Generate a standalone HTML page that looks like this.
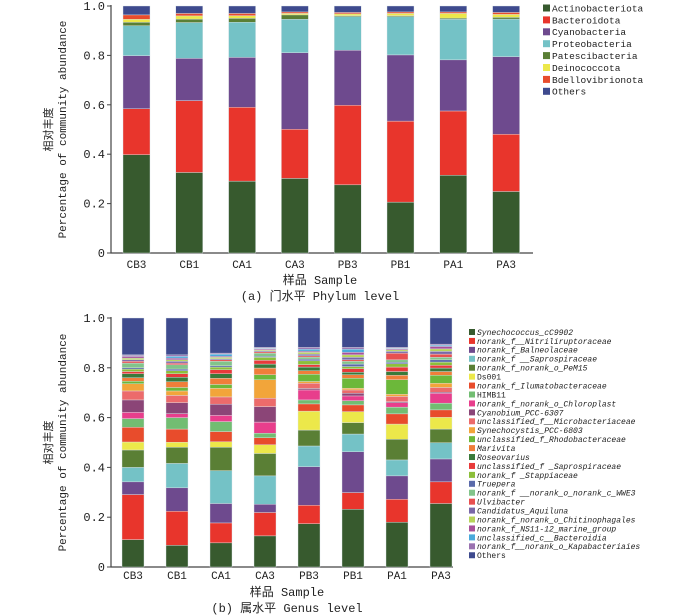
<!DOCTYPE html>
<html><head><meta charset="utf-8"><style>
html,body{margin:0;padding:0;background:#fff;width:700px;height:616px;overflow:hidden}
svg{display:block}
text{font-family:"Liberation Mono","Noto Sans CJK SC",monospace;fill:#222}
</style></head><body>
<svg id="chart" width="700" height="616" xmlns="http://www.w3.org/2000/svg"></svg>
<script>
const samples = ["CB3","CB1","CA1","CA3","PB3","PB1","PA1","PA3"];
const phylumNames = ["Actinobacteriota","Bacteroidota","Cyanobacteria","Proteobacteria","Patescibacteria","Deinococcota","Bdellovibrionota","Others"];
const phylumColors = ["#375a2e","#e8352c","#6e4a8e","#74c2c6","#5a7f35","#ece84a","#e84c2c","#3e4a8e"];
const phylumActino = [.398,.326,.291,.302,.276,.206,.315,.249];
const phylumBactero = [.186,.291,.299,.199,.322,.328,.260,.232];
const phylumCyano = [.215,.171,.202,.310,.223,.268,.207,.314];
const phylumProteo = [.121,.145,.142,.135,.136,.155,.164,.152];
const phylumPates = [.014,.014,.016,.018,.004,.004,.005,.007];
const phylumDeino = [.012,.013,.011,.006,.007,.009,.019,.012];
const phylumBdello = [.018,.010,.009,.006,.006,.006,.006,.008];
const phylumOthers = [.036,.030,.030,.024,.026,.024,.024,.026];
const phylumSeries = [phylumActino,phylumBactero,phylumCyano,phylumProteo,phylumPates,phylumDeino,phylumBdello,phylumOthers];

const genusNames = ["Synechococcus_cC9902","norank_f__Nitriliruptoraceae","norank_f_Balneolaceae","norank_f __Saprospiraceae","norank_f_norank_o_PeM15","Ds001","norank_f_Ilumatobacteraceae","HIMB11","norank_f_norank_o_Chloroplast","Cyanobium_PCC-6307","unclassified_f__Microbacteriaceae","Synechocystis_PCC-6803","unclassified_f_Rhodobacteraceae","Marivita","Roseovarius","unclassified_f _Saprospiraceae","norank_f _Stappiaceae","Truepera","norank_f __norank_o_norank_c_WWE3","Ulvibacter","Candidatus_Aquiluna","norank_f_norank_o_Chitinophagales","norank_f_NS11-12_marine_group","unclassified_c__Bacteroidia","norank_f__norank_o_Kapabacteriaies","Others"];
const genusColors = ["#375a2e","#e8352c","#6e4a8e","#74c2c6","#5a7f35","#ece84a","#e84c2c","#72bd72","#e83e8c","#8b4577","#ec6b6b","#f2a53a","#6cb83a","#f07e3a","#3a7a3a","#e83a3a","#8cbf3a","#5a6aaa","#82c48a","#e85050","#7a68a8","#b8d45a","#a8509a","#4aaadc","#9a72b0","#3e4a8e"];
const genusUpright = ["Ds001","HIMB11","Others"];
// per-sample genus proportions (order = genusNames)
const genusCB3 = [.110,.181,.051,.058,.070,.032,.059,.035,.025,.050,.036,.029,.010,.014,.016,.009,.010,.005,.019,.007,.006,.007,.007,.002,.004,.148];
const genusCB1 = [.087,.137,.094,.098,.065,.020,.053,.046,.016,.044,.029,.018,.014,.023,.018,.014,.012,.007,.017,.007,.007,.006,.007,.007,.006,.148];
const genusCA1 = [.097,.080,.078,.132,.094,.022,.041,.040,.025,.045,.029,.035,.015,.025,.018,.016,.011,.005,.018,.006,.004,.006,.004,.009,.004,.141];
const genusCA3 = [.125,.094,.033,.114,.090,.035,.028,.018,.045,.062,.034,.074,.020,.027,.016,.015,.012,.004,.013,.005,.004,.004,.004,.003,.003,.118];
const genusPB3 = [.174,.074,.155,.083,.064,.076,.029,.016,.040,.006,.021,.007,.029,.014,.015,.010,.015,.007,.008,.005,.007,.007,.005,.008,.007,.118];
const genusPB1 = [.232,.067,.164,.071,.046,.044,.027,.017,.019,.011,.013,.007,.040,.014,.010,.014,.009,.010,.011,.006,.010,.010,.010,.013,.007,.118];
const genusPA1 = [.180,.092,.094,.064,.083,.061,.041,.027,.018,.004,.021,.009,.058,.018,.015,.018,.013,.006,.010,.027,.007,.006,.004,.003,.003,.118];
const genusPA3 = [.255,.087,.092,.065,.055,.047,.030,.027,.040,.004,.019,.017,.032,.015,.014,.011,.013,.009,.010,.013,.011,.010,.010,.005,.004,.105];
const genusBySample = [genusCB3,genusCB1,genusCA1,genusCA3,genusPB3,genusPB1,genusPA1,genusPA3];
const yTicks = [0,0.2,0.4,0.6,0.8,1.0];
const yTickLabels = ["0","0.2","0.4","0.6","0.8","1.0"];

const NS="http://www.w3.org/2000/svg";
const svg=document.getElementById('chart');
function mk(tag,attrs,parent,txt){const e=document.createElementNS(NS,tag);for(const k in attrs)e.setAttribute(k,attrs[k]);if(txt!==undefined)e.textContent=txt;(parent||svg).appendChild(e);return e;}

function panel(cfg){
  const g=mk('g',{});
  
  
  const y=v=>cfg.y0-(cfg.y0-cfg.y1)*v;
  const x=i=>cfg.xFirst+i*cfg.pitch;
  // axes
  const ax=mk('path',{d:`M${cfg.axX},${cfg.y1-1} V${cfg.y0} H${cfg.axEnd}`,fill:'none',stroke:'#444','stroke-width':1.2},g);
  
  
  yTicks.forEach((t,i)=>{
    mk('line',{x1:cfg.axX-4,x2:cfg.axX,y1:y(t),y2:y(t),stroke:'#444'},g);
    const lb=mk('text',{x:cfg.axX-6,y:y(t)+4,'text-anchor':'end','font-size':12},g,yTickLabels[i]);
    
    
  });
  // bars
  samples.forEach((s,i)=>{
    let cum=0;
    const vals=cfg.getVals(i);
    vals.forEach((v,k)=>{
      const r=mk('rect',{x:x(i),y:y(cum+v),width:cfg.bw,height:Math.max(0,y(cum)-y(cum+v)),fill:cfg.colors[k],stroke:'#dfe6ea','stroke-width':0.4},g);
      
      
      cum+=v;
    });
    const lb=mk('text',{x:x(i)+cfg.bw/2,y:cfg.xlabY,'text-anchor':'middle','font-size':11},g,s);
    
    
  });
  // y title
  const cy=(cfg.y0+cfg.y1)/2;
  const t1=mk('text',{x:0,y:0,'text-anchor':'middle','font-size':11,transform:`translate(${cfg.ytX1},${cy}) rotate(-90)`},g,'相对丰度');
  
  
  const t2=mk('text',{x:0,y:0,'text-anchor':'middle','font-size':11,transform:`translate(${cfg.ytX2},${cy}) rotate(-90)`},g,'Percentage of community abundance');
  
  
  const xt=mk('text',{x:cfg.titleX,y:cfg.xtitleY,'text-anchor':'middle','font-size':12},g,'样品 Sample');
  
  
  const cap=mk('text',{x:cfg.titleX,y:cfg.capY,'text-anchor':'middle','font-size':12},g,cfg.caption);
  
  
  // legend
  const lg=mk('g',{},g);
  
  
  cfg.names.forEach((n,k)=>{
    const ly=cfg.legY+k*cfg.legStep;
    const it=mk('g',{},lg);
    
    
    mk('rect',{x:cfg.legX,y:ly-cfg.sq/2,width:cfg.sq,height:cfg.sq,fill:cfg.colors[k]},it);
    const italic=cfg.italic && genusUpright.indexOf(n)<0;
    mk('text',{x:cfg.legX+cfg.sq+2,y:ly+cfg.legFont*0.36,'font-size':cfg.legFont,'font-style':italic?'italic':'normal'},it,n);
  });
}

panel({name:'phylum-chart',y0:253,y1:6,axX:111,axEnd:533,xFirst:123,pitch:52.8,bw:27,
  getVals:i=>phylumSeries.map(s=>s[i]),colors:phylumColors,names:phylumNames,
  xlabY:268,ytX1:52,ytX2:66,titleX:320,xtitleY:284,capY:300,caption:'(a) 门水平 Phylum level',
  legX:543,legY:8,legStep:11.9,sq:7,legFont:9.5,italic:false});
panel({name:'genus-chart',y0:567,y1:318,axX:111,axEnd:453,xFirst:122,pitch:44,bw:22,
  getVals:i=>genusBySample[i],colors:genusColors,names:genusNames,
  xlabY:579,ytX1:52,ytX2:66,titleX:287,xtitleY:596,capY:612,caption:'(b) 属水平 Genus level',
  legX:469,legY:332,legStep:8.93,sq:6,legFont:8,italic:true});
</script>
</body></html>
